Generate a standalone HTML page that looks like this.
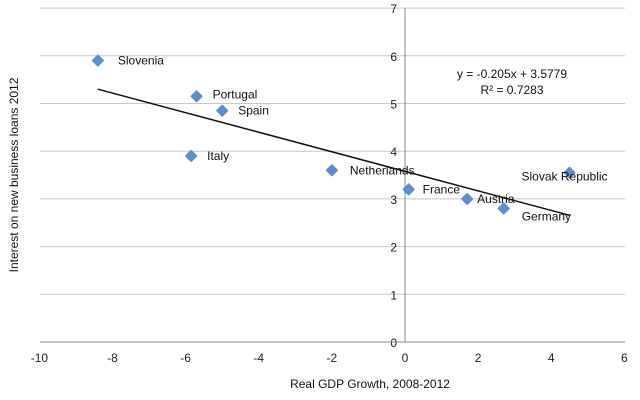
<!DOCTYPE html>
<html><head><meta charset="utf-8"><style>
body{margin:0;background:#fff;}
svg{display:block;font-family:"Liberation Sans",sans-serif;}
</style></head><body>
<svg id="chart" width="640" height="400"></svg>
<script>
const countries=["Slovenia","Portugal","Spain","Italy","Netherlands","France","Austria","Germany","Slovak Republic"];
const growth=[-8.4,-5.7,-5.0,-5.85,-2.0,0.1,1.7,2.7,4.5];
const interest=[5.9,5.15,4.85,3.9,3.6,3.2,3.0,2.8,3.55];
const xTicks=[-10,-8,-6,-4,-2,0,2,4,6];
const yTicks=[0,1,2,3,4,5,6,7];
const slope=-0.205, intercept=3.5779;
const labelDx=[20,16,16,16,18,14,10,18,-48];
const labelDy=[4,2,4,4,4,4,4,12,8];
const NS="http://www.w3.org/2000/svg";
const svg=document.getElementById('chart');
const X=v=>405+v*36.56, Y=v=>342-v*47.7;
function mk(t,a,txt){const e=document.createElementNS(NS,t);for(const k in a)e.setAttribute(k,a[k]);if(txt!==undefined)e.textContent=txt;svg.appendChild(e);return e;}
yTicks.forEach(t=>{
 if(t>0){const g=mk('line',{x1:40,x2:625,y1:Y(t),y2:Y(t),stroke:'#c8c8c8','stroke-width':1});
 
 }
 const l=mk('text',{x:X(0)-8,y:Y(t)+5,'text-anchor':'end','font-size':12,fill:'#222'},t);
 
 
});
const xa=mk('line',{x1:40,x2:625,y1:Y(0),y2:Y(0),stroke:'#888'});


const ya=mk('line',{x1:X(0),x2:X(0),y1:Y(0),y2:Y(7),stroke:'#888'});


xTicks.forEach(t=>{
 const l=mk('text',{x:X(t),y:362,'text-anchor':'middle','font-size':12,fill:'#222'},t);
 
 
});
const x0=Math.min(...growth),x1=Math.max(...growth);
const tl=mk('line',{x1:X(x0),y1:Y(slope*x0+intercept),x2:X(x1),y2:Y(slope*x1+intercept),stroke:'#111','stroke-width':1.5});


growth.forEach((g,i)=>{
 const cx=X(g),cy=Y(interest[i]);
 const p=mk('path',{d:`M${cx-5} ${cy}L${cx} ${cy-5}L${cx+5} ${cy}L${cx} ${cy+5}Z`,fill:'#5b8fd0',stroke:'#5b8fd0','stroke-width':2,'stroke-linejoin':'round'});
 
 
 const t=mk('text',{x:cx+labelDx[i],y:cy+labelDy[i],'font-size':12,fill:'#111'},countries[i]);
 
 
});
const e1=mk('text',{x:512,y:78,'text-anchor':'middle','font-size':12,fill:'#111'},'y = -0.205x + 3.5779');


const e2=mk('text',{x:512,y:94,'text-anchor':'middle','font-size':12,fill:'#111'},'R² = 0.7283');


const xt=mk('text',{x:370,y:388,'text-anchor':'middle','font-size':12,fill:'#111'},'Real GDP Growth, 2008-2012');


const yt=mk('text',{x:18,y:175,'text-anchor':'middle','font-size':12,fill:'#111',transform:'rotate(-90 18 175)'},'Interest on new business loans 2012');


</script>
</body></html>
